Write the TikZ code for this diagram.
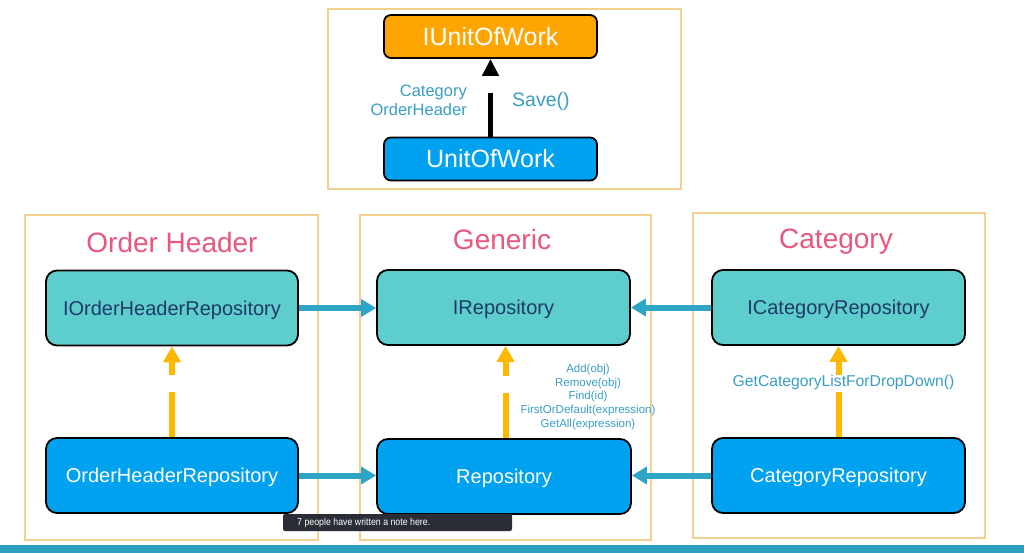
\documentclass[tikz,border=0pt]{standalone}
\usepackage{fontspec}
\setmainfont{Liberation Sans}
\usetikzlibrary{arrows.meta}
\definecolor{orng}{HTML}{FFA502}
\definecolor{blu}{HTML}{00A2F0}
\definecolor{tealn}{HTML}{5ECDCD}
\definecolor{tealarr}{HTML}{2EA5C4}
\definecolor{ylw}{HTML}{FFB800}
\definecolor{lbl}{HTML}{3A9EC2}
\definecolor{pnk}{HTML}{E8587E}
\definecolor{navy}{HTML}{1F3A68}
\definecolor{frm}{HTML}{F3CF92}
\definecolor{bar}{HTML}{2E9FC0}
\definecolor{note}{HTML}{2A2D35}
\tikzset{
  frame/.style={draw=frm, line width=1.3pt},
  topbox/.style={draw=black, line width=1.8pt, rounded corners=7pt, minimum width=213pt, minimum height=43pt, inner sep=0pt, text=white, font=\fontsize{25}{28}\selectfont, text height=17.9pt, text depth=0pt},
  ibox/.style={draw=black, line width=1.8pt, rounded corners=11pt, fill=tealn, minimum width=252pt, minimum height=75pt, inner sep=0pt, text=navy, font=\fontsize{20}{24}\selectfont, text height=14.3pt, text depth=0pt},
  cbox/.style={draw=black, line width=1.8pt, rounded corners=11pt, fill=blu, minimum width=253pt, minimum height=75pt, inner sep=0pt, text=white, font=\fontsize{20}{24}\selectfont, text height=14.3pt, text depth=0pt},
  title/.style={text=pnk, font=\fontsize{28}{32}\selectfont, anchor=base, inner sep=0pt},
  harr/.style={draw=tealarr, line width=6pt, -{Triangle[length=15pt,width=17pt]}},
  varr/.style={draw=ylw, line width=6pt, dash pattern=on 45pt off 17pt on 60pt, -{Triangle[length=16pt,width=17pt]}},
  lbltext/.style={text=lbl, inner sep=0pt}
}
\begin{document}
\begin{tikzpicture}[x=1pt,y=-1pt]
\useasboundingbox (0,0) rectangle (1024,553);
\fill[white] (0,0) rectangle (1024,553);
% frames
\draw[frame] (328,9) rectangle (681,189);
\draw[frame] (25,215) rectangle (318,540);
\draw[frame] (360,215) rectangle (651,540);
\draw[frame] (693,213) rectangle (985,538);
% top
\node[topbox, fill=orng] (iuow) at (490.5,36.5) {IUnitOfWork};
\node[topbox, fill=blu] (uow) at (490.5,159) {UnitOfWork};
\draw[line width=5pt, dash pattern=on 44pt off 60pt, -{Triangle[length=17pt,width=16pt]}] (uow.north) -- (iuow.south);
\node[lbltext, align=right, anchor=east, font=\fontsize{16.5}{19.5}\selectfont] (cat) at (467,100.5) {Category\\OrderHeader};
\node[lbltext, anchor=west, font=\fontsize{19.5}{22}\selectfont] (save) at (512,101) {Save()};
% titles
\node[title] (t1) at (172,252) {Order Header};
\node[title] (t2) at (502,249) {Generic};
\node[title] (t3) at (836,248) {Category};
% nodes
\node[ibox] (ioh) at (172,308) {IOrderHeaderRepository};
\node[ibox, minimum width=253pt] (irep) at (503.5,307.5) {IRepository};
\node[ibox, minimum width=253pt] (icat) at (838.5,307.5) {ICategoryRepository};
\node[cbox, minimum width=252pt] (oh) at (172,475.5) {OrderHeaderRepository};
\node[cbox, minimum width=254pt] (rep) at (504,476.5) {Repository};
\node[cbox] (cat2) at (838.5,475.5) {CategoryRepository};
% teal arrows
\draw[harr] (ioh.east) -- (irep.west |- ioh.east);
\draw[harr] (icat.west) -- (irep.east |- icat.west);
\draw[harr] (oh.east) -- (rep.west |- oh.east);
\draw[harr] (cat2.west) -- (rep.east |- cat2.west);
% yellow arrows
\draw[varr] (oh.north) -- (ioh.south);
\draw[varr] ([xshift=1.5pt]rep.north) -- ([xshift=1.5pt]rep.north |- irep.south);
\draw[varr] (cat2.north) -- (icat.south);
% labels
\node[lbltext, align=center, font=\fontsize{11.5}{13.8}\selectfont] (meth) at (588,397) {Add(obj)\\Remove(obj)\\Find(id)\\FirstOrDefault(expression)\\GetAll(expression)};
\node[lbltext, font=\fontsize{15.7}{18}\selectfont] (gcl) at (843.5,382) {GetCategoryListForDropDown()};
% bottom bar and note
\fill[bar] (0,545) rectangle (1024,553);
\node[fill=note, rounded corners=2pt, minimum width=229pt, minimum height=17pt, inner sep=0pt] (nt) at (397.5,522.5) {};
\node[text=white, anchor=west, inner sep=0pt, font=\fontsize{10}{12}\selectfont, xscale=0.88] (ntt) at (297,522.5) {7 people have written a note here.};
\end{tikzpicture}
\end{document}
